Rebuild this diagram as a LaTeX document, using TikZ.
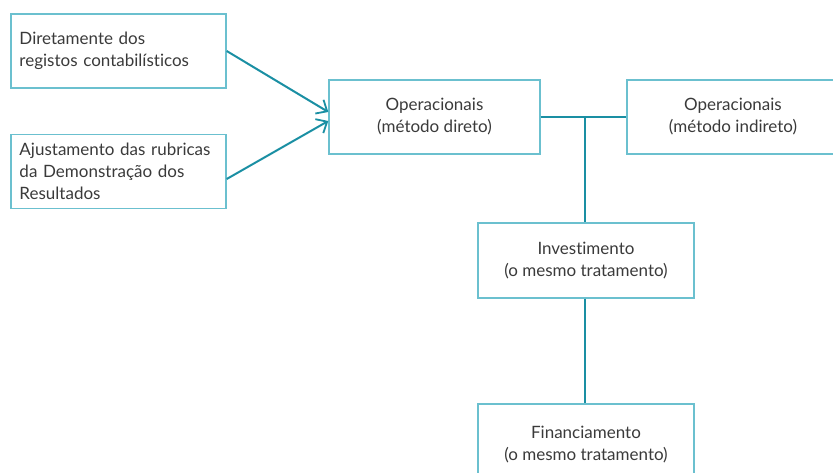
\documentclass[tikz,border=0pt]{standalone}
\usepackage{fontspec}
\setmainfont{Lato}[Ligatures=NoCommon]
\usetikzlibrary{arrows.meta}
\definecolor{tealline}{HTML}{1A8FA3}
\definecolor{tealbox}{HTML}{6BC0CF}
\definecolor{textgray}{HTML}{3A3A3A}

\begin{document}
\begin{tikzpicture}[x=1pt,y=-1pt]%
  \tikzstyle{boxl}=[rectangle,draw=tealbox,line width=1.4pt,minimum width=215pt,minimum height=74pt,
    text width=198pt,align=left,inner sep=0pt,text=textgray,font=\fontsize{17}{22}\selectfont]
  \tikzstyle{boxc}=[rectangle,draw=tealbox,line width=1.4pt,minimum width=213pt,minimum height=74pt,
    align=center,inner sep=0pt,text=textgray,font=\fontsize{17}{22}\selectfont]
  \tikzstyle{conn}=[draw=tealline,line width=2pt]
  \tikzstyle{arr}=[conn,-{Straight Barb[length=9pt,width=16pt,line width=1.8pt]}]
  \useasboundingbox (0,0) rectangle (833,473);
  \clip (0,0) rectangle (833,473);
  \node(dir)[boxl] at (118.5,51) {Diretamente dos\\registos contabilísticos};
  \node(ajust)[boxl] at (118.5,171.5) {Ajustamento das rubricas\\da Demonstração dos\\Resultados};
  \node(opdir)[boxc,minimum width=211pt] at (434.5,117) {Operacionais\\(método direto)};
  \node(opind)[boxc,minimum width=212pt] at (733,117) {Operacionais\\(método indireto)};
  \node(inv)[boxc,minimum width=216pt,minimum height=75pt] at (586,260.5) {Investimento\\(o mesmo tratamento)};
  \node(fin)[boxc,minimum width=216pt,minimum height=82pt] at (586,445) {Financiamento\\(o mesmo tratamento)};
  \coordinate(jn) at (585,117);
  \draw[arr] (dir.east) -- ([yshift=5pt]opdir.west);
  \draw[arr] ([yshift=-7.5pt]ajust.east) -- ([yshift=-4pt]opdir.west);
  \draw[conn] (opdir.east) -- (opind.west);
  \draw[conn] (jn) -- (jn |- inv.north);
  \draw[conn] (inv.south -| jn) -- (fin.north -| jn);
\end{tikzpicture}
\end{document}
